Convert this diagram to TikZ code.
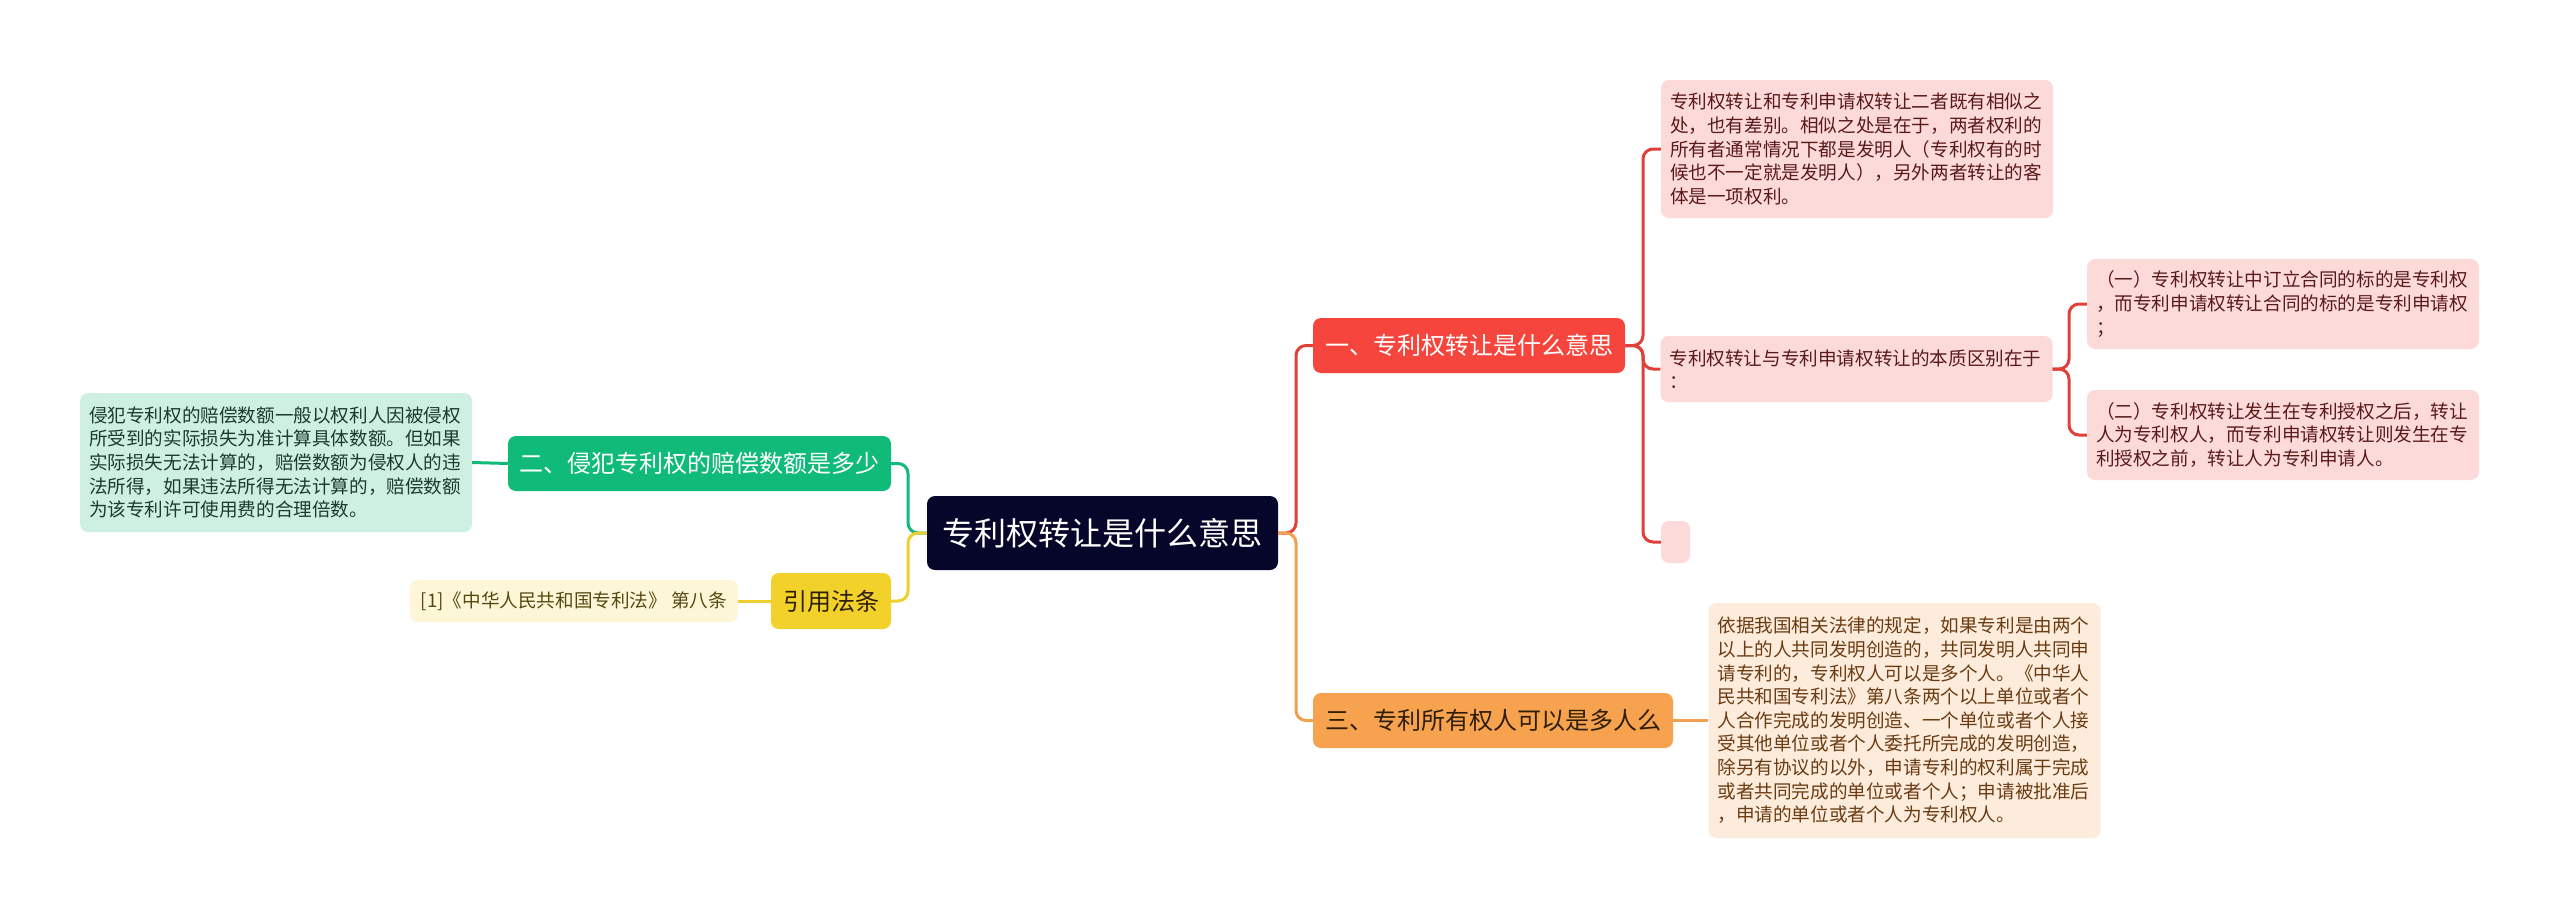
\documentclass[tikz,border=0pt]{standalone}
\usepackage{fontspec}
\setmainfont{Noto Sans CJK SC}
\usetikzlibrary{calc}
\definecolor{rootfill}{HTML}{06062A}
\definecolor{redb}{HTML}{F5453D}
\definecolor{redline}{HTML}{E0403A}
\definecolor{redleaf}{HTML}{FDDADA}
\definecolor{redtext}{HTML}{5A1A1A}
\definecolor{greenb}{HTML}{10BB7A}
\definecolor{greenleaf}{HTML}{CEF0E2}
\definecolor{greentext}{HTML}{1E3A2C}
\definecolor{orangeb}{HTML}{F6A24E}
\definecolor{orangeline}{HTML}{F0A050}
\definecolor{orangeleaf}{HTML}{FDEBDC}
\definecolor{orangetext}{HTML}{6A3C12}
\definecolor{yellowb}{HTML}{F2D22A}
\definecolor{yellowline}{HTML}{EFCF2E}
\definecolor{yellowleaf}{HTML}{FDF7D8}
\definecolor{yellowtext}{HTML}{574812}
\definecolor{darktext}{HTML}{2E1E08}
\tikzset{
  box/.style={rounded corners=8pt, inner xsep=9pt, inner ysep=0pt, align=left},
  rootbox/.style={box, fill=rootfill, text=white, font=\fontsize{32}{38}\selectfont, align=center},
  branch/.style={box, font=\fontsize{24}{30}\selectfont, align=center},
  leaf/.style={box, font=\fontsize{18.6}{23.6}\selectfont},
  conn/.style={line width=3pt, rounded corners=10pt},
}
\begin{document}
\begin{tikzpicture}[x=1pt,y=-1pt]
\useasboundingbox[fill=white] (0,0) rectangle (2560,918);

% root
\node[rootbox, minimum width=351pt, minimum height=74pt] (root) at (1102.5,533) {专利权转让是什么意思};

% branches
\node[branch, fill=redb, text=white, minimum width=312pt, minimum height=55pt] (b1) at (1469,345.5) {一、专利权转让是什么意思};
\node[branch, fill=orangeb, text=darktext, minimum width=360pt, minimum height=55pt] (b3) at (1493,720.5) {三、专利所有权人可以是多人么};
\node[branch, fill=greenb, text=white, minimum width=383pt, minimum height=55pt] (b2) at (699.5,463.5) {二、侵犯专利权的赔偿数额是多少};
\node[branch, fill=yellowb, text=darktext, minimum width=120pt, minimum height=56pt] (b4) at (831,601) {引用法条};

% leaves
\node[leaf, fill=greenleaf, text=greentext, text width=374pt, minimum height=139pt] (l2) at (276,462.5) {侵犯专利权的赔偿数额一般以权利人因被侵权\\所受到的实际损失为准计算具体数额。但如果\\实际损失无法计算的，赔偿数额为侵权人的违\\法所得，如果违法所得无法计算的，赔偿数额\\为该专利许可使用费的合理倍数。};
\node[leaf, fill=yellowleaf, text=yellowtext, minimum width=328pt, minimum height=42pt, align=center] (l4) at (574,601) {[1]《中华人民共和国专利法》 第八条};

\node[leaf, fill=redleaf, text=redtext, text width=374pt, minimum height=138pt] (l1a) at (1857,149) {专利权转让和专利申请权转让二者既有相似之\\处，也有差别。相似之处是在于，两者权利的\\所有者通常情况下都是发明人（专利权有的时\\候也不一定就是发明人），另外两者转让的客\\体是一项权利。};
\node[leaf, fill=redleaf, text=redtext, text width=374pt, minimum height=66pt] (l1b) at (1856.5,369) {专利权转让与专利申请权转让的本质区别在于\\：};
\node[leaf, fill=redleaf, text=redtext, text width=374pt, minimum height=90pt] (l1b1) at (2283,304) {（一）专利权转让中订立合同的标的是专利权\\，而专利申请权转让合同的标的是专利申请权\\；};
\node[leaf, fill=redleaf, text=redtext, text width=374pt, minimum height=90pt] (l1b2) at (2283,435) {（二）专利权转让发生在专利授权之后，转让\\人为专利权人，而专利申请权转让则发生在专\\利授权之前，转让人为专利申请人。};
\node[fill=redleaf, rounded corners=8pt, inner sep=0pt, minimum width=29pt, minimum height=42pt] (l1c) at (1675.5,542) {};

\node[leaf, fill=orangeleaf, text=orangetext, text width=374pt, minimum height=235pt] (l3) at (1904.5,720.5) {依据我国相关法律的规定，如果专利是由两个\\以上的人共同发明创造的，共同发明人共同申\\请专利的，专利权人可以是多个人。《中华人\\民共和国专利法》第八条两个以上单位或者个\\人合作完成的发明创造、一个单位或者个人接\\受其他单位或者个人委托所完成的发明创造，\\除另有协议的以外，申请专利的权利属于完成\\或者共同完成的单位或者个人；申请被批准后\\，申请的单位或者个人为专利权人。};

% trunk coordinates
\coordinate (tR) at (1296,0);
\coordinate (tL) at (908,0);
\coordinate (t1) at (1643,0);
\coordinate (t2) at (2069,0);

% connectors
\draw[conn, redline] (root.east) -- (root.east -| tR) |- (b1.west);
\draw[conn, orangeline] (root.east) -- (root.east -| tR) |- (b3.west);
\draw[conn, greenb] (root.west) -- (root.west -| tL) |- (b2.east);
\draw[conn, yellowline] (root.west) -- (root.west -| tL) |- (b4.east);

\draw[conn, redline] (b1.east) -- (b1.east -| t1) |- (l1a.west);
\draw[conn, redline] (b1.east) -- (b1.east -| t1) |- (l1b.west);
\draw[conn, redline] (b1.east) -- (b1.east -| t1) |- (l1c.west);
\draw[conn, redline] (l1b.east) -- (l1b.east -| t2) |- (l1b1.west);
\draw[conn, redline] (l1b.east) -- (l1b.east -| t2) |- (l1b2.west);

\draw[conn, greenb] (b2.west) -- (l2.east);
\draw[conn, yellowline] (b4.west) -- (l4.east);
\draw[conn, orangeline] (b3.east) -- (l3.west);
\end{tikzpicture}
\end{document}
